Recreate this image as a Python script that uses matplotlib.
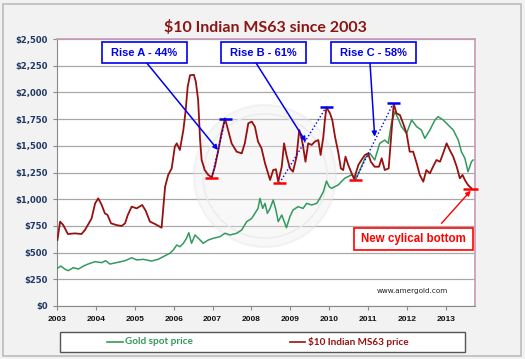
import matplotlib
matplotlib.use('Agg')
import matplotlib.pyplot as plt
from matplotlib.patches import Rectangle, Ellipse
from matplotlib.lines import Line2D
import matplotlib.ticker as mticker

# ---------------- data ----------------
ms63_years = [2003.01, 2003.08, 2003.16, 2003.28, 2003.46, 2003.63, 2003.72, 2003.89, 2003.98,
              2004.06, 2004.15, 2004.23, 2004.30, 2004.39, 2004.53, 2004.66, 2004.75, 2004.82,
              2004.92, 2005.05, 2005.19, 2005.28, 2005.39, 2005.52, 2005.69, 2005.78, 2005.86,
              2005.95, 2006.03, 2006.08, 2006.16, 2006.25, 2006.31, 2006.36, 2006.42, 2006.52,
              2006.57, 2006.63, 2006.68, 2006.72, 2006.80, 2006.89, 2006.98, 2007.06, 2007.15,
              2007.23, 2007.32, 2007.40, 2007.49, 2007.62, 2007.75, 2007.83, 2007.92, 2008.01,
              2008.09, 2008.17, 2008.26, 2008.35, 2008.48, 2008.56, 2008.63, 2008.69, 2008.78,
              2008.84, 2008.90, 2008.99, 2009.07, 2009.16, 2009.23, 2009.29, 2009.33, 2009.39,
              2009.46, 2009.55, 2009.63, 2009.72, 2009.78, 2009.85, 2009.89, 2009.93, 2010.02,
              2010.08, 2010.15, 2010.23, 2010.30, 2010.36, 2010.42, 2010.49, 2010.56, 2010.64,
              2010.75, 2010.83, 2010.92, 2011.00, 2011.07, 2011.17, 2011.28, 2011.35, 2011.43,
              2011.53, 2011.60, 2011.66, 2011.73, 2011.82, 2011.90, 2011.99, 2012.07, 2012.16,
              2012.25, 2012.33, 2012.42, 2012.50, 2012.59, 2012.67, 2012.76, 2012.85, 2012.93,
              2013.02, 2013.10, 2013.19, 2013.28, 2013.36, 2013.43, 2013.49, 2013.57, 2013.66]
ms63_price = [618, 790, 758, 674, 680, 674, 712, 820, 961,
              1008, 946, 868, 852, 774, 758, 749, 774, 852,
              930, 914, 946, 893, 790, 768, 733, 1117, 1227,
              1289, 1492, 1523, 1461, 1648, 1835, 2050, 2160, 2165,
              2100, 1929, 1554, 1367, 1273, 1227, 1205, 1304, 1461,
              1617, 1757, 1648, 1523, 1445, 1429, 1523, 1711, 1726,
              1679, 1539, 1476, 1336, 1180, 1273, 1280, 1164, 1304,
              1523, 1414, 1289, 1258, 1398, 1648, 1570, 1492, 1351,
              1523, 1508, 1539, 1554, 1414, 1585, 1742, 1860, 1804,
              1742, 1585, 1445, 1289, 1273, 1398, 1320, 1258, 1190,
              1320, 1367, 1414, 1429, 1351, 1304, 1304, 1383, 1273,
              1289, 1617, 1895, 1804, 1788, 1711, 1617, 1445, 1445,
              1336, 1227, 1164, 1273, 1242, 1304, 1367, 1351, 1429,
              1523, 1461, 1398, 1304, 1196, 1227, 1180, 1133, 1102]

gold_years = [2003.01, 2003.10, 2003.21, 2003.29, 2003.42, 2003.55, 2003.68, 2003.80, 2003.98,
              2004.15, 2004.25, 2004.36, 2004.53, 2004.75, 2004.92, 2005.05, 2005.22, 2005.43,
              2005.60, 2005.78, 2005.90, 2005.99, 2006.08, 2006.16, 2006.25, 2006.33, 2006.39,
              2006.46, 2006.55, 2006.68, 2006.76, 2006.89, 2007.02, 2007.19, 2007.32, 2007.45,
              2007.62, 2007.75, 2007.88, 2008.01, 2008.09, 2008.17, 2008.22, 2008.29, 2008.35,
              2008.41, 2008.48, 2008.56, 2008.63, 2008.69, 2008.78, 2008.86, 2008.90, 2008.99,
              2009.07, 2009.20, 2009.33, 2009.42, 2009.55, 2009.68, 2009.76, 2009.85, 2009.93,
              2010.00, 2010.06, 2010.23, 2010.40, 2010.57, 2010.70, 2010.79, 2010.92, 2011.05,
              2011.17, 2011.30, 2011.43, 2011.52, 2011.60, 2011.69, 2011.77, 2011.86, 2011.99,
              2012.12, 2012.25, 2012.37, 2012.46, 2012.59, 2012.72, 2012.80, 2012.93, 2013.06,
              2013.19, 2013.32, 2013.40, 2013.49, 2013.57, 2013.66, 2013.70]
gold_price = [353, 374, 343, 331, 359, 346, 374, 393, 415,
              406, 424, 393, 406, 424, 452, 431, 437, 421,
              437, 471, 493, 524, 571, 555, 587, 634, 686,
              587, 665, 618, 587, 618, 634, 649, 681, 665,
              681, 712, 790, 821, 868, 914, 1008, 914, 961,
              868, 914, 993, 899, 790, 852, 774, 733, 836,
              899, 930, 914, 961, 946, 961, 1008, 1070, 1170,
              1117, 1102, 1133, 1196, 1227, 1196, 1273, 1383, 1429,
              1367, 1523, 1554, 1523, 1711, 1819, 1757, 1679, 1617,
              1742, 1679, 1648, 1570, 1648, 1742, 1773, 1742, 1695,
              1648, 1554, 1445, 1383, 1258, 1351, 1367]

x_ticks = list(range(2003, 2014))
y_ticks = list(range(0, 2501, 250))

# cycle annotations
rise_lows_years = [2006.98, 2008.72, 2010.67]
rise_lows = [1200, 1150, 1180]
rise_highs_years = [2007.33, 2009.93, 2011.65]
rise_highs = [1750, 1866, 1900]
rise_labels = ["Rise A - 44%", "Rise B - 61%", "Rise C - 58%"]
rise_box_x = [2005.25, 2008.31, 2011.14]
rise_arrow_start_x = [2005.31, 2008.12, 2011.05]
rise_arrow_tip = [(2007.14, 1461), (2009.40, 1538), (2011.17, 1585)]
bottom_year, bottom_price = 2013.62, 1095

RED = '#981010'
GREEN = '#33995e'
BLUE = '#0000f0'
ARED = '#ff0000'

W, H = 525, 359
fig = plt.figure(figsize=(W / 100, H / 100), dpi=100)
fig.patch.set_facecolor('#f2f2f2')
fig.patches.append(Rectangle((3 / W, 3 / H), 518 / W, 352 / H, transform=fig.transFigure,
                             fill=False, edgecolor='#bcbcbc', lw=1.2))

ax = fig.add_axes([57 / W, 1 - 306 / H, 418 / W, 267 / H])
ax.set_facecolor('white')
ax.set_xlim(2003, 2013.75)
ax.set_ylim(0, 2500)

# faint watermark coin
ax.add_patch(Ellipse((265 / W, 1 - 176 / H), 142 / W, 142 / H, transform=fig.transFigure,
                     facecolor='#ececec', alpha=0.35, edgecolor='#e2e2e2', lw=1.5, zorder=1))
ax.add_patch(Ellipse((265 / W, 1 - 176 / H), 124 / W, 124 / H, transform=fig.transFigure,
                     facecolor='none', edgecolor='#ebebeb', lw=1.0, zorder=1))

ax.set_yticks(y_ticks)
ax.set_xticks(x_ticks)
ax.yaxis.set_major_formatter(mticker.FuncFormatter(lambda v, p: f"${v:,.0f}"))
ax.yaxis.grid(True, color='#a8a8a8', lw=0.9)
ax.set_axisbelow(True)

for s in ['left', 'bottom']:
    ax.spines[s].set_color('#8a8a8a')
for s in ['top', 'right']:
    ax.spines[s].set_color('#c89ab4')
    ax.spines[s].set_linewidth(1.2)

ax.tick_params(axis='y', length=3, color='#8a8a8a', pad=3.5, labelsize=6, labelcolor='#1f3864')
ax.tick_params(axis='x', length=3, color='#8a8a8a', pad=4, labelsize=6, labelcolor='#111111')
for lab in ax.get_yticklabels():
    lab.set_fontweight('bold')
    lab.set_family('DejaVu Sans')
for lab in ax.get_xticklabels():
    lab.set_fontweight('bold')
    lab.set_family('Liberation Sans')

ax.plot(gold_years, gold_price, color=GREEN, lw=1.1, zorder=3)
ax.plot(ms63_years, ms63_price, color=RED, lw=1.3, zorder=4)

# rise annotations
for i in range(3):
    ax.plot([rise_lows_years[i], rise_highs_years[i]], [rise_lows[i], rise_highs[i]],
            color=BLUE, ls=':', lw=1.0, zorder=5)
    ax.plot([rise_lows_years[i] - 0.17, rise_lows_years[i] + 0.17], [rise_lows[i]] * 2,
            color=ARED, lw=1.8, zorder=6, solid_capstyle='butt')
    ax.plot([rise_highs_years[i] - 0.17, rise_highs_years[i] + 0.17], [rise_highs[i]] * 2,
            color=BLUE, lw=1.8, zorder=6, solid_capstyle='butt')
    bw = 2.18
    ax.add_patch(Rectangle((rise_box_x[i] - bw / 2, 2275), bw, 197, facecolor='white',
                           edgecolor=BLUE, lw=1.2, zorder=7))
    ax.text(rise_box_x[i], 2373, rise_labels[i], color=BLUE, fontsize=8, fontweight='bold',
            family='Liberation Sans', ha='center', va='center', zorder=8)
    ax.annotate('', xy=rise_arrow_tip[i], xytext=(rise_arrow_start_x[i], 2275),
                arrowprops=dict(arrowstyle='-|>', color=BLUE, lw=1.1,
                                mutation_scale=7, shrinkA=0, shrinkB=0), zorder=6)

# new cyclical bottom
ax.plot([bottom_year - 0.17, bottom_year + 0.2], [bottom_price] * 2, color=ARED, lw=1.8,
        zorder=6, solid_capstyle='butt', clip_on=False)
ax.add_patch(Rectangle((2010.63, 524), 3.06, 206, facecolor='white', edgecolor=ARED,
                       lw=1.2, zorder=7))
ax.text(2012.16, 627, "New cylical bottom", color=ARED, fontsize=8.3, fontweight='bold',
        family='Liberation Sans', ha='center', va='center', zorder=8)
ax.annotate('', xy=(2013.64, 1080), xytext=(2012.89, 774),
            arrowprops=dict(arrowstyle='-|>', color=ARED, lw=1.0,
                            mutation_scale=7, shrinkA=0, shrinkB=0), zorder=6)

ax.text(2012.15, 140, "www.amergold.com", color='#222222', fontsize=5.2,
        family='DejaVu Sans', ha='center', va='center', zorder=8)

# title
fig.text(265 / W, 1 - 27 / H, "$10 Indian MS63 since 2003", color='#8b1414',
         fontsize=11.5, fontweight='bold', family='Lato', ha='center', va='center')

# legend
fig.patches.append(Rectangle((60 / W, 1 - 352 / H), 405 / W, 20 / H, transform=fig.transFigure,
                             facecolor='white', edgecolor='#555555', lw=1))
ly = 1 - 342 / H
fig.lines.append(Line2D([107 / W, 123 / W], [ly, ly], transform=fig.transFigure, color=GREEN, lw=1.2))
fig.text(125 / W, ly, "Gold spot price", color=GREEN, fontsize=7.2, fontweight='bold',
         family='Lato', ha='left', va='center')
fig.lines.append(Line2D([290 / W, 305 / W], [ly, ly], transform=fig.transFigure, color=RED, lw=1.2))
fig.text(308 / W, ly, "$10 Indian MS63 price", color=RED, fontsize=7.2, fontweight='bold',
         family='Lato', ha='left', va='center')

fig.savefig('out.png', dpi=100, facecolor=fig.get_facecolor())
